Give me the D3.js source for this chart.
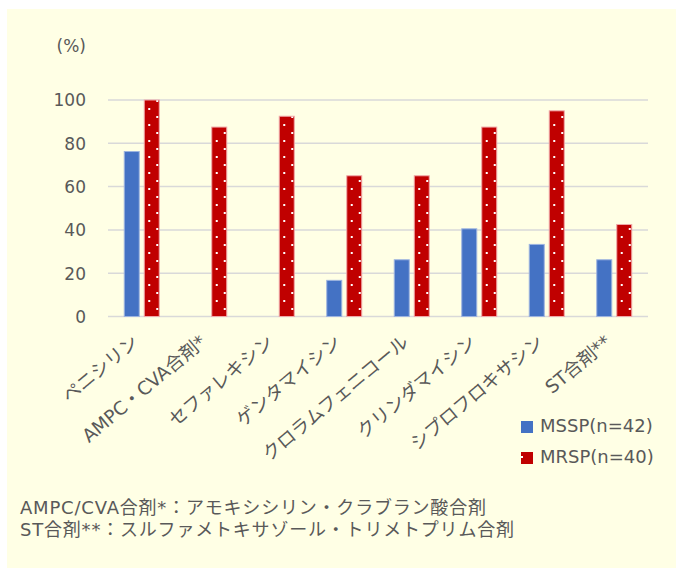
<!DOCTYPE html>
<html>
<head>
<meta charset="utf-8">
<script src="https://cdn.jsdelivr.net/npm/d3@7"></script>
<style>
  body { margin: 0; background: #fff; }
  text { font-family: "DejaVu Sans", "Noto Sans CJK JP", sans-serif; fill: #595959; }
</style>
</head>
<body>
<div class="chartBox"></div>
<script>
// data (percent resistant)
var categories = ['ペニシリン', 'AMPC・CVA合剤*', 'セファレキシン', 'ゲンタマイシン',
  'クロラムフェニコール', 'クリンダマイシン', 'シプロフロキサシン', 'ST合剤**'];
var seriesNames = ['MSSP(n=42)', 'MRSP(n=40)'];
var mssp = [76.2, 0, 0, 16.7, 26.2, 40.5, 33.3, 26.2];
var mrsp = [100, 87.5, 92.5, 65, 65, 87.5, 95, 42.5];
var yTicks = [0, 20, 40, 60, 80, 100];
var footnotes = ['AMPC/CVA合剤*：アモキシシリン・クラブラン酸合剤',
  'ST合剤**：スルファメトキサゾール・トリメトプリム合剤'];

var w = 676, h = 568;
var plot = { left: 108, right: 648, top: 100, bottom: 316.5 };

var svg = d3.select('div.chartBox')
  .append('svg')
  .attr('width', w)
  .attr('height', h);

// dotted fill for MRSP
var pat = svg.append('defs').append('pattern')
  .attr('id', 'dots')
  .attr('patternUnits', 'userSpaceOnUse')
  .attr('width', 16).attr('height', 16);
pat.append('rect').attr('width', 16).attr('height', 16).attr('fill', '#C00000');
pat.append('rect').attr('x', 0).attr('y', 4).attr('width', 2).attr('height', 2).attr('fill', '#fff');
pat.append('rect').attr('x', 8).attr('y', 12).attr('width', 2).attr('height', 2).attr('fill', '#fff');

svg.append('rect')
  .attr('x', 7).attr('y', 9)
  .attr('width', w - 7).attr('height', h - 9)
  .attr('fill', '#FFFFE5');

var x0 = d3.scaleBand().domain(categories).range([plot.left, plot.right]);
var x1 = d3.scaleBand().domain(seriesNames).range([0, 35]).paddingInner(0.25);
var y = d3.scaleLinear().domain([0, 100]).range([plot.bottom, plot.top]);

// gridlines
svg.selectAll('line.grid')
  .data(yTicks)
  .enter()
  .append('line')
  .attr('class', 'grid')
  .attr('x1', plot.left).attr('x2', plot.right)
  .attr('y1', function(d) { return y(d); })
  .attr('y2', function(d) { return y(d); })
  .attr('stroke', '#D9D9D9')
  .attr('stroke-width', 1.5);

// y axis labels
var yAxis = d3.axisLeft(y).tickValues(yTicks).tickSize(0).tickPadding(0);
var gy = svg.append('g')
  .attr('transform', 'translate(86,0)')
  .call(yAxis);
gy.select('.domain').remove();
gy.selectAll('text')
  .attr('font-size', 17)
  .attr('dy', '0.35em')
  .style('font-family', null);

svg.append('text')
  .attr('x', 86).attr('y', 52)
  .attr('text-anchor', 'end')
  .attr('font-size', 17)
  .text('(%)');

// bars
var rows = categories.map(function(c, i) {
  return { cat: c, vals: [mssp[i], mrsp[i]] };
});

var groups = svg.selectAll('g.cat')
  .data(rows)
  .enter()
  .append('g')
  .attr('class', 'cat')
  .attr('transform', function(d) {
    return 'translate(' + (x0(d.cat) + x0.bandwidth() / 2 - 17.5) + ',0)';
  });

groups.selectAll('rect')
  .data(function(d) {
    return d.vals.map(function(v, j) { return { s: seriesNames[j], v: v, j: j }; })
      .filter(function(e) { return e.v > 0; });
  })
  .enter()
  .append('rect')
  .attr('x', function(d) { return x1(d.s); })
  .attr('width', x1.bandwidth())
  .attr('y', function(d) { return y(d.v); })
  .attr('height', function(d) { return y(0) - y(d.v); })
  .attr('fill', function(d) { return d.j === 0 ? '#4472C4' : 'url(#dots)'; })
  .attr('stroke', function(d) { return d.j === 0 ? '#9db4e0' : '#f0a8a8'; })
  .attr('stroke-width', 1);

// x labels, rotated
svg.selectAll('text.xlab')
  .data(categories)
  .enter()
  .append('text')
  .attr('class', 'xlab')
  .attr('font-size', 18.5)
  .attr('text-anchor', 'end')
  .attr('transform', function(d) {
    return 'translate(' + (x0(d) + x0.bandwidth() / 2 - 2) + ',344) rotate(-40)';
  })
  .text(function(d) { return d; });

// legend
var leg = svg.selectAll('g.leg')
  .data(seriesNames)
  .enter()
  .append('g')
  .attr('class', 'leg')
  .attr('transform', function(d, i) { return 'translate(521,' + (421 + i * 31) + ')'; });
leg.append('rect')
  .attr('width', 12).attr('height', 12)
  .attr('fill', function(d, i) { return i === 0 ? '#4472C4' : 'url(#dots)'; });
leg.append('text')
  .attr('x', 19).attr('y', 11)
  .attr('font-size', 18)
  .text(function(d) { return d; });

// footnotes
svg.selectAll('text.note')
  .data(footnotes)
  .enter()
  .append('text')
  .attr('class', 'note')
  .attr('x', 20)
  .attr('y', function(d, i) { return 514 + i * 22; })
  .attr('font-size', 18)
  .attr('letter-spacing', 0.8)
  .text(function(d) { return d; });
</script>
</body>
</html>
